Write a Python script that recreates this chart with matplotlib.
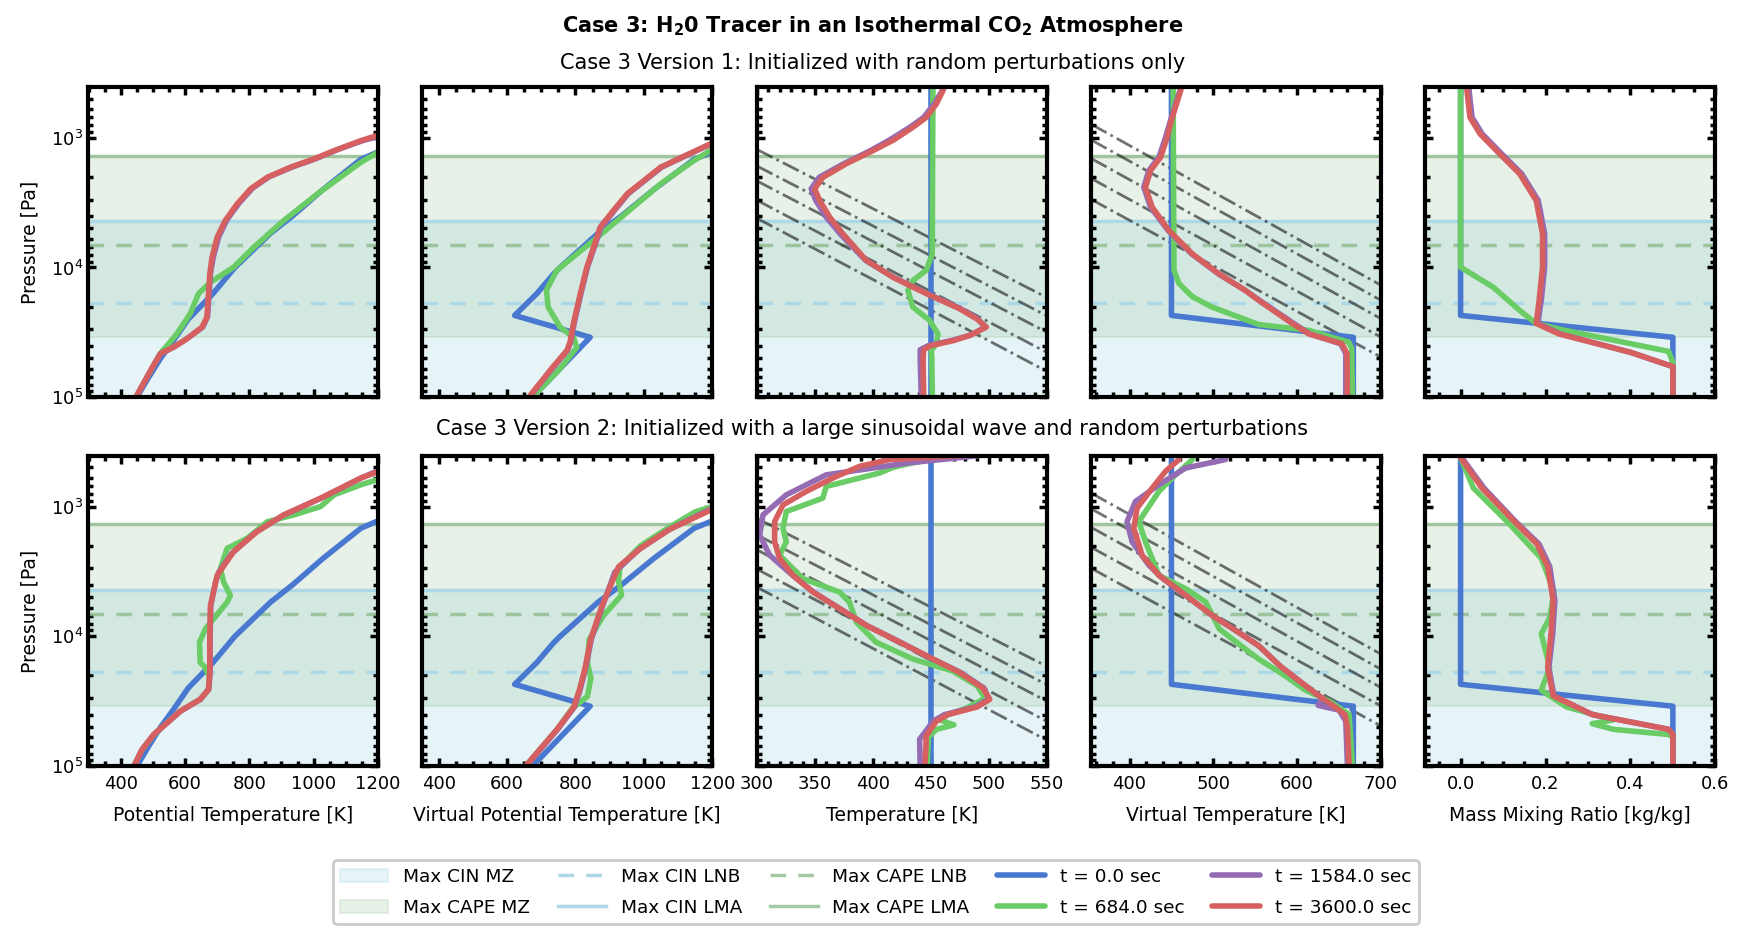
import matplotlib
matplotlib.use("Agg")
import matplotlib.pyplot as plt
from matplotlib.ticker import AutoMinorLocator

plt.rcParams["font.family"] = "DejaVu Sans"
plt.rcParams["font.size"] = 13.5
plt.rcParams["xtick.direction"] = "in"
plt.rcParams["ytick.direction"] = "in"

# ---- reference levels [Pa] ----
cape_lma = 1375
cin_lma = 4400
cape_lnb = 6690
cin_lnb = 18800
cape_mz = (1375, 34500)
cin_mz = (4400, 1e5)

# ---- t = 0 profiles (same in both versions), (value, pressure) ----
blue_theta = [(450, 1e5), (487, 7e4), (524, 5e4), (564, 3.66e4), (610, 2.5e4), (686, 1.6e4),
              (755, 1e4), (866, 5450), (935, 4000), (1030, 2500), (1147, 1470), (1200, 1290)]
blue_thetav = [(674, 1e5), (755, 6e4), (843, 3.45e4), (622, 2.34e4), (686, 1.6e4), (736, 1.12e4),
               (755, 1e4), (866, 5450), (935, 4000), (1030, 2500), (1147, 1470), (1200, 1290)]
blue_temp = [(450, 1e5), (450, 380)]
blue_tv = [(667, 1e5), (667, 3.45e4), (450, 2.34e4), (450, 380)]
blue_q = [(0.5, 1e5), (0.5, 3.45e4), (0.0, 2.34e4), (0.0, 380)]

# ---- version 1 ----
v1_theta_green = [(447, 1e5), (523, 4.6e4), (575, 3.24e4), (616, 2.27e4), (642, 1.59e4), (679, 1.3e4),
                  (751, 9960), (814, 6980), (907, 4350), (1012, 2710), (1147, 1550), (1200, 1300)]
v1_theta_purple = [(447, 1e5), (497, 6e4), (525, 4.6e4), (566, 4.1e4), (608, 3.5e4), (655, 2.88e4),
                   (670, 2.4e4), (675, 1.59e4), (679, 1.12e4), (688, 8300), (705, 5800), (730, 4300),
                   (768, 3200), (810, 2450), (862, 2000), (935, 1680), (1008, 1450), (1070, 1250),
                   (1150, 1060), (1200, 980)]
v1_theta_red = [(447, 1e5), (496, 6e4), (523, 4.61e4), (564, 4.1e4), (606, 3.54e4), (653, 2.88e4),
                (668, 2.41e4), (673, 1.59e4), (677, 1.12e4), (684, 8340), (700, 5850), (725, 4350),
                (762, 3240), (804, 2480), (856, 2020), (928, 1690), (1001, 1460), (1064, 1260),
                (1147, 1055), (1200, 960)]

v1_thetav_green = [(674, 1e5), (755, 6.01e4), (804, 4.11e4), (794, 3.44e4), (755, 2.88e4), (720, 2.02e4),
                   (715, 1.5e4), (745, 1.056e4), (804, 7860), (853, 6190), (911, 4610), (980, 3240),
                   (1049, 2270), (1147, 1500), (1200, 1230)]
v1_thetav_purple = [(665, 1e5), (732, 6e4), (777, 4.35e4), (786, 3.76e4), (796, 2.7e4), (816, 1.59e4),
                    (835, 9960), (855, 6980), (875, 4900), (914, 3640), (954, 2710), (1003, 2140),
                    (1052, 1690), (1122, 1380), (1200, 1110)]
v1_thetav_red = [(663, 1e5), (730, 6e4), (775, 4.35e4), (784, 3.76e4), (794, 2.7e4), (814, 1.59e4),
                 (833, 9960), (853, 6980), (872, 4900), (911, 3640), (951, 2710), (1000, 2140),
                 (1049, 1690), (1120, 1380), (1200, 1100)]

v1_temp_green = [(451.5, 1e5), (451, 5e4), (450.6, 4.35e4), (455, 3.87e4), (456.3, 3.25e4), (449, 2.55e4),
                 (434.7, 2.02e4), (430.4, 1.5e4), (434.7, 1.26e4), (446.3, 1.05e4), (451.4, 7850),
                 (452, 380)]
v1_temp_purple = [(462, 400), (460, 435), (453, 551), (444, 698), (432, 833), (414, 1050), (398, 1260),
                  (375, 1590), (354, 2020), (347, 2480), (351, 3050), (360, 4100), (372, 5510),
                  (394, 8830), (418, 11900), (447, 15900), (476, 20800), (491, 25000), (497, 28800),
                  (484, 33300), (468, 36500), (448, 40000), (441, 43000), (441, 52000), (442, 1e5)]
v1_temp_red = [(462, 400), (460.6, 435), (454.9, 551), (446.3, 698), (434.7, 833), (417.5, 1050),
               (400.3, 1260), (377.3, 1590), (357.2, 2020), (350, 2480), (354.3, 3050), (363, 4100),
               (374.4, 5510), (394.6, 8830), (417.5, 11900), (446.3, 15900), (475, 20800), (490, 25000),
               (498, 28800), (484, 33300), (470, 36500), (450, 40000), (444, 43000), (443.5, 52000),
               (444, 1e5)]

v1_tv_green = [(666, 1e5), (665, 4.2e4), (661.5, 3.76e4), (614, 3.05e4), (554, 2.75e4), (522, 2.3e4),
               (498.6, 2.02e4), (475, 1.68e4), (459, 1.33e4), (453, 1.05e4), (452, 380)]
v1_tv_purple = [(462, 400), (460, 435), (450, 698), (443, 994), (435, 1418), (423, 1794), (417, 2410),
                (425, 3430), (446, 5190), (474, 7860), (506, 11200), (538, 15000), (555, 17900),
                (596, 27000), (615, 32500), (652, 38700), (658, 46100), (658, 1e5)]
v1_tv_red = [(462, 400), (461, 435), (451, 698), (445, 994), (437, 1418), (425, 1794), (419, 2410),
             (427, 3430), (447, 5190), (475, 7860), (506.6, 11200), (538, 15000), (554, 17900),
             (594, 27000), (614, 32500), (653.5, 38700), (659.5, 46100), (660, 1e5)]

v1_q_green = [(0.5, 1e5), (0.5, 5.4e4), (0.49, 4.43e4), (0.231, 2.98e4), (0.178, 2.7e4), (0.139, 2.14e4),
              (0.077, 1.42e4), (0.0, 9960), (0.0, 380)]
v1_q_purple = [(0.02, 400), (0.02, 435), (0.027, 698), (0.051, 937), (0.097, 1335), (0.144, 1900),
               (0.183, 3050), (0.198, 5510), (0.198, 9960), (0.19, 17900), (0.182, 27000),
               (0.235, 32500), (0.4, 45000), (0.5, 58000), (0.5, 1e5)]
v1_q_red = [(0.015, 400), (0.015, 435), (0.022, 698), (0.046, 937), (0.092, 1335), (0.139, 1900),
            (0.178, 3050), (0.193, 5510), (0.193, 9960), (0.185, 17900), (0.178, 27000),
            (0.232, 32500), (0.4, 45000), (0.5, 58000), (0.5, 1e5)]

# ---- version 2 ----
v2_theta_green = [(441, 1e5), (466, 7.47e4), (502, 5.8e4), (540, 4.7e4), (585, 3.77e4), (647, 3.06e4),
                  (673, 2.56e4), (675, 2.03e4), (660, 1.7e4), (647, 1.59e4), (645, 1.11e4), (663, 8770),
                  (689, 7330), (731, 5450), (741, 4840), (720, 3810), (710, 3010), (731, 2100),
                  (793, 1760), (856, 1310), (939, 1160), (1022, 1000), (1064, 812), (1147, 680),
                  (1200, 620)]
v2_theta_purple = [(441, 1e5), (467, 7.4e4), (503, 5.7e4), (546, 4.6e4), (587, 3.75e4), (648, 3.05e4),
                   (674, 2.55e4), (678, 1.9e4), (678, 1.05e4), (680, 5800), (695, 3800), (705, 3200),
                   (745, 2300), (820, 1580), (905, 1170), (1020, 870), (1150, 600), (1200, 530)]
v2_theta_red = [(441, 1e5), (466, 7.47e4), (502, 5.71e4), (544, 4.64e4), (585, 3.77e4), (647, 3.06e4),
                (673, 2.56e4), (677, 1.9e4), (677, 1.05e4), (679, 5800), (700, 3390), (751, 2230),
                (824, 1560), (907, 1160), (1022, 862), (1147, 603), (1200, 540)]

v2_thetav_green = [(654, 1e5), (746, 5.2e4), (790, 3.6e4), (835, 2.9e4), (845, 2.1e4), (835, 1.6e4),
                   (840, 1.06e4), (880, 7000), (935, 4800), (926, 3800), (930, 2900), (991, 2000),
                   (1073, 1450), (1150, 1100), (1200, 1000)]
v2_thetav_purple = [(655, 1e5), (748, 5.2e4), (797, 3.5e4), (813, 2.6e4), (830, 1.75e4), (846, 1.06e4),
                    (879, 5850), (915, 3200), (985, 2150), (1075, 1500), (1200, 1030)]
v2_thetav_red = [(654, 1e5), (746, 5.2e4), (795, 3.5e4), (811, 2.6e4), (828, 1.75e4), (844, 1.06e4),
                 (877, 5850), (926, 2910), (991, 2090), (1073, 1510), (1200, 1050)]

v2_temp_green = [(480, 405), (455, 425), (430, 470), (417.5, 500), (406, 552), (360, 700), (357, 862),
                 (325.6, 1093), (322.7, 1473), (325.6, 1867), (319.8, 2370), (340, 3600), (371.6, 4560),
                 (380, 5450), (386, 7800), (403, 11100), (434.7, 14950), (469, 18500), (490, 24000),
                 (497, 30000), (480, 36000), (465, 40000), (458, 44000), (470, 48000), (455, 52000),
                 (448, 60000), (447, 1e5)]
v2_temp_purple = [(492, 405), (470, 425), (432, 460), (360, 570), (325.6, 813), (305.5, 1160),
                  (302.6, 1660), (311.2, 2370), (331, 3390), (349, 4560), (372, 6130), (395, 8250),
                  (424, 11100), (452, 14950), (476, 19000), (496, 25000), (500, 30500), (488, 35000),
                  (462, 40000), (452, 45000), (447, 52000), (440.5, 62000), (441, 1e5)]
v2_temp_red = [(478, 405), (445, 420), (414.7, 435), (388.8, 490), (365.8, 603), (342.8, 765),
               (322.7, 972), (315.5, 1307), (315.5, 1867), (319.8, 2516), (331.3, 3390), (348.5, 4560),
               (371.6, 6130), (394.6, 8250), (423.3, 11100), (452, 14950), (475, 19000), (495, 25000),
               (501, 30500), (490, 35000), (465, 40000), (455, 45000), (450, 52000), (446, 58800),
               (446, 70000), (445, 1e5)]

v2_tv_green = [(475, 435), (451, 603), (435, 765), (419, 1093), (411, 1307), (419, 1867), (435, 3390),
               (467, 4300), (491, 5450), (507, 8760), (538, 12500), (554, 14950), (585, 20000),
               (610, 26000), (640, 32000), (662, 40000), (666, 1e5)]
v2_tv_purple = [(514.5, 435), (467, 505), (435, 680), (407, 915), (397, 1307), (403, 1867), (423, 2830),
                (440, 3600), (467, 4830), (499, 6930), (530, 9310), (554, 11800), (580, 17000),
                (610, 24000), (630, 30000), (625, 34000), (650, 37000), (658, 45000), (660, 1e5)]
v2_tv_red = [(459, 435), (443, 535), (427, 721), (409, 1031), (405, 1473), (415, 2370), (435, 3390),
             (467, 4830), (499, 6930), (530, 9310), (554, 11800), (580, 17000), (610, 24000),
             (630, 30000), (645, 35000), (657, 40000), (660, 50000), (662, 1e5)]

v2_q_green = [(0.0, 420), (0.03, 720), (0.11, 1310), (0.19, 2500), (0.22, 4500), (0.21, 7200),
              (0.19, 9550), (0.21, 17400), (0.19, 26000), (0.25, 35000), (0.36, 44000), (0.31, 47000),
              (0.36, 52000), (0.49, 57000), (0.5, 60000), (0.5, 1e5)]
v2_q_purple = [(0.0, 400), (0.005, 430), (0.055, 720), (0.13, 1310), (0.185, 1950), (0.21, 2900),
               (0.222, 5300), (0.217, 9550), (0.208, 17400), (0.22, 28700), (0.31, 40000),
               (0.49, 52000), (0.5, 57000), (0.5, 1e5)]
v2_q_red = [(0.0, 400), (0.0, 420), (0.05, 720), (0.127, 1310), (0.18, 1950), (0.205, 2900),
            (0.218, 5300), (0.213, 9550), (0.205, 17400), (0.218, 28700), (0.31, 40000),
            (0.49, 52000), (0.5, 57000), (0.5, 1e5)]

# dry adiabats: pressure at left and right edge of the temperature panels
adiab_temp_T = [300, 550]
adiab_temp_p = [(1230, 17000), (1650, 23500), (2150, 31500), (3030, 45000), (4170, 63000)]
adiab_tv_T = [354, 700]
adiab_tv_p = [(787, 13700), (1040, 17900), (1445, 24800), (2060, 34400), (2985, 49000)]

xlabels = ["Potential Temperature [K]", "Virtual Potential Temperature [K]", "Temperature [K]",
           "Virtual Temperature [K]", "Mass Mixing Ratio [kg/kg]"]
xlims = [(298, 1200), (352, 1200), (300, 550), (354, 700), (-0.083, 0.6)]
times = ["t = 0.0 sec", "t = 684.0 sec", "t = 1584.0 sec", "t = 3600.0 sec"]
colors = ["#4878d0", "#6acc64", "#956cb4", "#d65f5f"]
cin_col = "lightblue"
cape_col = "darkseagreen"

rows = [
    [[blue_theta, v1_theta_green, v1_theta_purple, v1_theta_red],
     [blue_thetav, v1_thetav_green, v1_thetav_purple, v1_thetav_red],
     [blue_temp, v1_temp_green, v1_temp_purple, v1_temp_red],
     [blue_tv, v1_tv_green, v1_tv_purple, v1_tv_red],
     [blue_q, v1_q_green, v1_q_purple, v1_q_red]],
    [[blue_theta, v2_theta_green, v2_theta_purple, v2_theta_red],
     [blue_thetav, v2_thetav_green, v2_thetav_purple, v2_thetav_red],
     [blue_temp, v2_temp_green, v2_temp_purple, v2_temp_red],
     [blue_tv, v2_tv_green, v2_tv_purple, v2_tv_red],
     [blue_q, v2_q_green, v2_q_purple, v2_q_red]],
]

fig, axes = plt.subplots(2, 5, figsize=(17.45, 9.39), dpi=100, sharey=True, sharex="col")
fig.subplots_adjust(left=0.0504, right=0.983, bottom=0.184, top=0.907, wspace=0.153, hspace=0.19)

for r in range(2):
    for c in range(5):
        ax = axes[r, c]
        ax.axhspan(*cin_mz, color=cin_col, alpha=0.3, lw=1.5, label="Max CIN MZ")
        ax.axhspan(*cape_mz, color=cape_col, alpha=0.2, lw=1.5, label="Max CAPE MZ")
        ax.axhline(cin_lnb, color=cin_col, ls="--", lw=2.5, dashes=(4.5, 3.5), label="Max CIN LNB")
        ax.axhline(cin_lma, color=cin_col, lw=2.5, label="Max CIN LMA")
        ax.axhline(cape_lnb, color=cape_col, alpha=0.8, ls="--", lw=2.5, dashes=(4.5, 3.5), label="Max CAPE LNB")
        ax.axhline(cape_lma, color=cape_col, alpha=0.8, lw=2.5, label="Max CAPE LMA")
        if c == 2:
            for pl, pr in adiab_temp_p:
                ax.plot(adiab_temp_T, [pl, pr], color="black", alpha=0.55, ls="-.", lw=2)
        if c == 3:
            for pl, pr in adiab_tv_p:
                ax.plot(adiab_tv_T, [pl, pr], color="black", alpha=0.55, ls="-.", lw=2)
        for prof, col, lab in zip(rows[r][c], colors, times):
            ax.plot([v for v, p in prof], [p for v, p in prof], color=col, lw=4,
                    solid_capstyle="round", solid_joinstyle="round", label=lab)
        ax.set_yscale("log")
        ax.set_ylim(1e5, 410)
        ax.set_xlim(*xlims[c])
        ax.xaxis.set_minor_locator(AutoMinorLocator())
        ax.tick_params(which="both", top=True, right=True, width=2.5, labelsize=13)
        ax.tick_params(axis="x", which="both", pad=6)
        ax.tick_params(which="major", length=6)
        ax.tick_params(which="minor", length=3.5)
        for s in ax.spines.values():
            s.set_linewidth(3)
        if c == 0:
            ax.set_ylabel("Pressure [Pa]", fontsize=13.5, labelpad=8)
        if r == 1:
            ax.set_xlabel(xlabels[c], labelpad=10, fontsize=13.5)

fig.text(0.5, 0.972, r"Case 3: H$_\mathbf{2}$0 Tracer in an Isothermal CO$_\mathbf{2}$ Atmosphere",
         ha="center", va="center", fontsize=15, fontweight="bold")
fig.text(0.5, 0.933, "Case 3 Version 1: Initialized with random perturbations only",
         ha="center", va="center", fontsize=15)
fig.text(0.5, 0.543, "Case 3 Version 2: Initialized with a large sinusoidal wave and random perturbations",
         ha="center", va="center", fontsize=15)

handles, labels = axes[0, 0].get_legend_handles_labels()
leg = fig.legend(handles, labels, ncol=5, loc="lower center", bbox_to_anchor=(0.502, 0.006),
                 frameon=True, edgecolor="#cccccc", framealpha=1, columnspacing=1.5, handlelength=2.6,
                 labelspacing=0.7, fontsize=13.3)
leg.get_frame().set_linewidth(2)

fig.savefig("out.png", dpi=100)
